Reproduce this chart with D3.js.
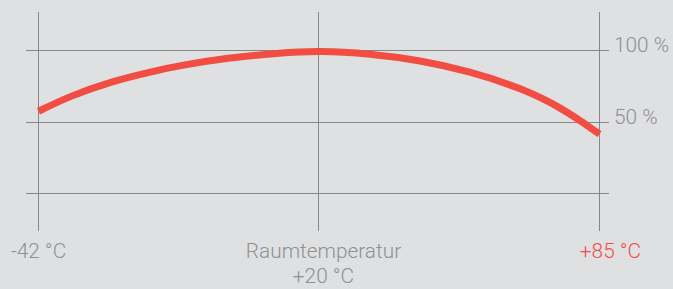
<!DOCTYPE html>
<meta charset="utf-8">
<style>
body {
  margin: 0;
  background: #dfe0e2;
}
svg {
  display: block;
  font-family: Roboto, "Liberation Sans", Arial, sans-serif;
  font-weight: 300;
}
.grid {
  stroke: #85888b;
  stroke-width: 1px;
  shape-rendering: crispEdges;
}
.label {
  font-size: 20.8px;
  fill: #8e9194;
}
.hot {
  fill: #f24d43;
}
.curve {
  fill: none;
  stroke: #f24d43;
  stroke-width: 7px;
}
</style>
<body>
<div id="chart"></div>
<script src="https://d3js.org/d3.v7.min.js"></script>
<script>
// temperature (°C) vs. capacity (%)
var temps = [-42, -35, -26, -17, -11, 0, 11, 20, 32, 43, 55, 67, 76, 85];
var capacity = [57.5, 68.2, 78.3, 85.2, 89.4, 94.9, 98.2, 100, 97.8, 93.4, 85.6, 73.5, 60.5, 41.6];

var xTicks = [-42, 20, 85];
var xLabels = [["-42 °C"], ["Raumtemperatur", "+20 °C"], ["+85 °C"]];
var yTicks = [0, 50, 100];
var yLabels = ["", "50 %", "100 %"];

var width = 673, height = 289;

var svg = d3.select("#chart").append("svg")
    .attr("width", width)
    .attr("height", height);

// x axis is stretched around room temperature
var x = d3.scaleLinear().domain([-42, 20, 85]).range([38.5, 318.5, 599.5]);
var y = d3.scaleLinear().domain([0, 100]).range([193.5, 50.5]);

// horizontal gridlines
svg.selectAll("line.h")
  .data(yTicks)
  .enter().append("line")
    .attr("class", "grid")
    .attr("x1", 26)
    .attr("x2", 609)
    .attr("y1", function(d) { return Math.floor(y(d)) + 0.5; })
    .attr("y2", function(d) { return Math.floor(y(d)) + 0.5; });

// vertical gridlines
svg.selectAll("line.v")
  .data(xTicks)
  .enter().append("line")
    .attr("class", "grid")
    .attr("x1", function(d) { return x(d); })
    .attr("x2", function(d) { return x(d); })
    .attr("y1", 12)
    .attr("y2", 231);

// y labels on the right
svg.selectAll("text.ylab")
  .data(yTicks)
  .enter().append("text")
    .attr("class", "label")
    .attr("x", 614)
    .attr("y", function(d) { return y(d) + 1.5; })
    .text(function(d, i) { return yLabels[i]; });

// x labels below
var xOffset = [0, 5, 11];
xTicks.forEach(function(t, i) {
  var txt = svg.append("text")
      .attr("class", i === 2 ? "label hot" : "label")
      .attr("text-anchor", "middle")
      .attr("x", x(t) + xOffset[i])
      .attr("y", 258);
  xLabels[i].forEach(function(s, j) {
    txt.append("tspan")
      .attr("x", x(t) + xOffset[i])
      .attr("dy", j === 0 ? 0 : 25)
      .text(s);
  });
});

var line = d3.line()
    .x(function(d, i) { return x(temps[i]); })
    .y(function(d) { return y(d); })
    .curve(d3.curveBasis);

svg.append("path")
    .datum(capacity)
    .attr("class", "curve")
    .attr("d", line);
</script>
</body>
